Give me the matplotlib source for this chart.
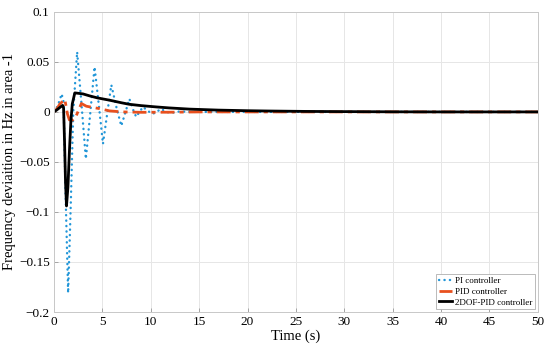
import numpy as np
import matplotlib.pyplot as plt

plt.rcParams['font.family'] = ['Liberation Serif', 'DejaVu Serif']
plt.rcParams['mathtext.fontset'] = 'stix'

# PI controller (dotted)
t_pi = [0, 0.4, 0.8, 1.0, 1.2, 1.47, 1.75, 2.0, 2.4, 2.85, 3.3, 3.75, 4.2,
        4.65, 5.07, 5.5, 5.93, 6.45, 6.96, 7.4, 7.8, 8.15, 8.5, 8.85, 9.2,
        9.7, 10.2, 10.6, 11.07, 11.6, 12.1, 13, 14, 15, 20, 30, 40, 50]
v_pi = [0, 0.006, 0.018, 0.01, -0.08, -0.181, -0.09, 0.0, 0.06, 0.008, -0.047,
        -0.002, 0.045, 0.006, -0.032, -0.002, 0.027, 0.005, -0.014, 0.0, 0.013,
        0.003, -0.005, 0.0, 0.005, 0.001, -0.002, 0.0, 0.003, 0.0, -0.001,
        0.0005, 0.0, 0.0, 0.0, 0.0, 0.0, 0.0]

# PID controller (dash-dot)
t_pid = [0, 0.3, 0.62, 1.13, 1.4, 1.6, 1.92, 2.3, 2.84, 3.35, 4.0, 4.7,
         5.76, 7.1, 9, 12, 15, 20, 30, 40, 50]
v_pid = [0, 0.003, 0.008, 0.0124, -0.002, -0.008, -0.0083, -0.004, 0.0084,
         0.0057, 0.0045, 0.0033, 0.001, 0.0, -0.0004, -0.0003, 0.0, 0.0, 0.0,
         0.0, 0.0]

# 2DOF-PID controller (solid)
t_dof = [0, 0.3, 0.62, 0.9, 1.0, 1.1, 1.2, 1.3, 1.45, 1.6, 1.75, 1.9, 2.16,
         2.6, 3.0, 3.7, 4.5, 5.76, 7.0, 7.8, 9.0, 10.55, 11.9, 14, 17, 20,
         22.2, 26, 30, 35, 40, 50]
v_dof = [0, 0.002, 0.0045, 0.0065, 0.004, -0.03, -0.07, -0.094, -0.075,
         -0.04, -0.01, 0.008, 0.019, 0.0185, 0.018, 0.016, 0.014, 0.0117,
         0.0091, 0.0076, 0.0063, 0.005, 0.004, 0.0028, 0.0018, 0.0012,
         0.0009, 0.0005, 0.0003, 0.0001, 0.0, 0.0]

fig = plt.figure(figsize=(5.5, 3.49), dpi=100)
ax = fig.add_axes([0.098, 0.106, 0.88, 0.86])

ax.plot(t_pi, v_pi, color='#2196d8', lw=1.7, dashes=(0.1, 2.2),
        dash_capstyle='round', label='PI controller')
ax.plot(t_pid, v_pid, color='#e8501e', lw=2.0, dashes=(5, 1.8, 1.5, 1.8),
        label='PID controller')
ax.plot(t_dof, v_dof, '-', color='k', lw=2.0, label='2DOF-PID controller')

ax.set_xlim(0, 50)
ax.set_ylim(-0.2, 0.1)
ax.set_xticks(np.arange(0, 51, 5))
ax.set_yticks([-0.2, -0.15, -0.1, -0.05, 0, 0.05, 0.1])
ax.set_yticklabels(['\u22120.2', '\u22120.15', '\u22120.1', '\u22120.05', '0', '0.05', '0.1'])
ax.grid(True, color='#e6e6e6', lw=0.7)
ax.set_axisbelow(True)
for s in ax.spines.values():
    s.set_color('#c8c8c8')
    s.set_linewidth(0.7)
ax.tick_params(direction='in', length=3, width=0.6, color='#9a9a9a',
               labelsize=9.5, pad=3)

ax.set_xlabel('Time (s)', fontsize=10.5, labelpad=1)
ax.set_ylabel('Frequency deviaition in Hz in area -1', fontsize=10.5, labelpad=2)

leg = ax.legend(loc='lower right', fontsize=6.5, handlelength=1.5,
                handletextpad=0.3, borderpad=0.3, labelspacing=0.25,
                fancybox=False, framealpha=1, edgecolor='#b0b0b0',
                borderaxespad=0.3)
leg.get_frame().set_linewidth(0.6)

fig.savefig('out.png', dpi=100)
